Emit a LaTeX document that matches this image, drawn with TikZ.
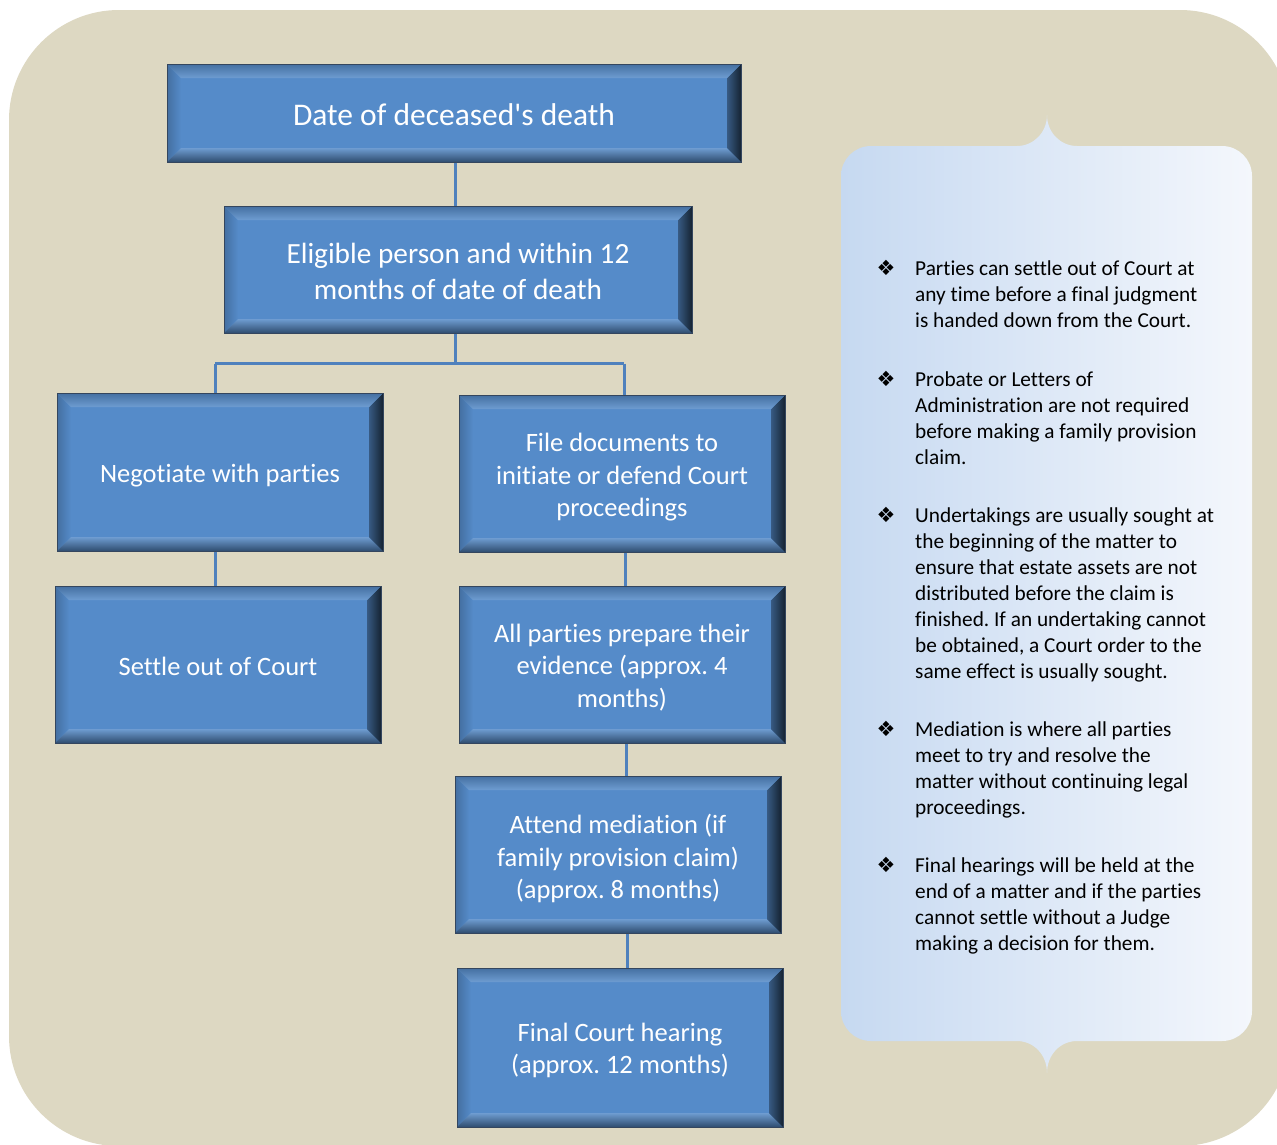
\documentclass[tikz,border=0pt]{standalone}
\usepackage{fontspec}
\setmainfont{Carlito}[Ligatures={TeX,NoCommon}]
\newfontfamily\dejavu{DejaVu Sans}
\definecolor{beige}{HTML}{DDD8C2}
\definecolor{boxface}{HTML}{558BC9}
\definecolor{boxline}{HTML}{34465E}
\definecolor{conn}{HTML}{4F81BD}
\definecolor{panelL}{HTML}{C6D9F1}
\definecolor{panelR}{HTML}{F4F7FC}
\begin{document}
\frenchspacing
\begin{tikzpicture}[x=1pt,y=-1pt,
  bevbox/.style={rectangle, inner sep=0pt, draw=boxline, line width=1pt, fill=boxface,
    path picture={
      \path (path picture bounding box.north west) coordinate (bnw)
            (path picture bounding box.north east) coordinate (bne)
            (path picture bounding box.south west) coordinate (bsw)
            (path picture bounding box.south east) coordinate (bse);
      \shade[left color=boxface!80!black, right color=boxface]
        (bnw) -- ([xshift=14pt,yshift=-14pt]bnw) -- ([xshift=14pt,yshift=14pt]bsw) -- (bsw) -- cycle;
      \shade[top color=boxface!85!white, bottom color=boxface!55!black]
        (bsw) -- ([xshift=14pt,yshift=14pt]bsw) -- ([xshift=-14pt,yshift=14pt]bse) -- (bse) -- cycle;
      \shade[left color=boxface!65!black, right color=boxface!25!black]
        (bse) -- ([xshift=-14pt,yshift=14pt]bse) -- ([xshift=-14pt,yshift=-14pt]bne) -- (bne) -- cycle;
      \shade[top color=boxface!80!black, middle color=boxface!55!white, bottom color=boxface!85!white]
        (bnw) -- (bne) -- ([xshift=-14pt,yshift=-14pt]bne) -- ([xshift=14pt,yshift=-14pt]bnw) -- cycle;
    }},
  boxtext/.style={inner sep=0pt, text=white, align=center, font=\fontsize{26.5}{32.5}\selectfont},
  connline/.style={draw=conn, line width=3pt},
  bullet/.style={anchor=base, inner sep=0pt, font=\dejavu\fontsize{21}{21}\selectfont},
  note/.style={anchor=base west, inner sep=0pt, font=\fontsize{21.3}{26}\selectfont}
]
\useasboundingbox (0,0) rectangle (1277,1144);
\fill[white] (0,0) rectangle (1277,1144);
\begin{scope}
  \clip (0,0) rectangle (1277,1144);
  \fill[beige, rounded corners=110pt] (9,10) rectangle (1290,1146);
\end{scope}

% side panel
\shade[left color=panelL, right color=panelR]
  (871,146) -- (1017,146) .. controls (1033.6,146) and (1047,132.4) .. (1047,115)
  .. controls (1047,132.4) and (1060.4,146) .. (1077,146) -- (1222,146)
  .. controls (1238.6,146) and (1252,159.4) .. (1252,176) -- (1252,1011)
  .. controls (1252,1027.6) and (1238.6,1041) .. (1222,1041) -- (1077,1041)
  .. controls (1060.4,1041) and (1047,1054.6) .. (1047,1073)
  .. controls (1047,1054.6) and (1033.6,1041) .. (1017,1041) -- (871,1041)
  .. controls (854.4,1041) and (841,1027.6) .. (841,1011) -- (841,176)
  .. controls (841,159.4) and (854.4,146) .. (871,146) -- cycle;

% boxes
\node[bevbox, minimum width=574pt, minimum height=98pt] (date) at (454,113) {};
\node[bevbox, minimum width=468pt, minimum height=127pt] (elig) at (458,269.5) {};
\node[bevbox, minimum width=326pt, minimum height=158pt] (neg) at (220,472) {};
\node[bevbox, minimum width=326pt, minimum height=157pt] (file) at (622,473.5) {};
\node[bevbox, minimum width=326pt, minimum height=157pt] (settle) at (218,664.5) {};
\node[bevbox, minimum width=326pt, minimum height=157pt] (all) at (622,664.5) {};
\node[bevbox, minimum width=326pt, minimum height=157pt] (attend) at (618,854.5) {};
\node[bevbox, minimum width=326pt, minimum height=159pt] (final) at (620,1047.5) {};

% box texts
\node[boxtext, font=\fontsize{31.5}{38}\selectfont] (dateT) at ([yshift=-2pt]date.center)
  {Date of deceased\textquotesingle s death};
\node[boxtext, font=\fontsize{29.3}{36}\selectfont] (eligT) at ([yshift=-2pt]elig.center)
  {Eligible person and within 12\\months of date of death};
\node[boxtext] (negT) at ([yshift=-4pt]neg.center) {Negotiate with parties};
\node[boxtext] (fileT) at ([yshift=-4pt]file.center) {File documents to\\initiate or defend Court\\proceedings};
\node[boxtext] (settleT) at ([yshift=-2pt]settle.center) {Settle out of Court};
\node[boxtext] (allT) at ([yshift=-3pt]all.center) {All parties prepare their\\evidence (approx. 4\\months)};
\node[boxtext] (attendT) at ([yshift=-4pt]attend.center) {Attend mediation (if\\family provision claim)\\(approx. 8 months)};
\node[boxtext] (finalT) at ([yshift=-3pt]final.center) {Final Court hearing\\(approx. 12 months)};

% connectors
\draw[connline] ([xshift=1pt]date.south) -- ([xshift=1pt]date.south |- elig.north);
\coordinate (split) at ([xshift=-3pt,yshift=-30pt]elig.south);
\draw[connline] ([xshift=-3pt]elig.south) -- (split);
\draw[connline] ([xshift=-5pt]neg.north |- split) -- ([xshift=2pt]file.north |- split);
\draw[connline] ([xshift=-5pt]neg.north |- split) -- ([xshift=-5pt]neg.north);
\draw[connline] ([xshift=2pt]file.north |- split) -- ([xshift=2pt]file.north);
\draw[connline] ([xshift=-5pt]neg.south) -- ([xshift=-5pt]neg.south |- settle.north);
\draw[connline] ([xshift=3pt]file.south) -- ([xshift=3pt]file.south |- all.north);
\draw[connline] ([xshift=4pt]all.south) -- ([xshift=4pt]all.south |- attend.north);
\draw[connline] ([xshift=9pt]attend.south) -- ([xshift=9pt]attend.south |- final.north);

% notes
\node[bullet] (b1) at (886,275) {❖};
\node[note] (n1) at (915,275) {\vtop{\baselineskip=26pt
  \hbox{Parties can settle out of Court at}
  \hbox{any time before a final judgment}
  \hbox{is handed down from the Court.}}};
\node[bullet] (b2) at (886,386) {❖};
\node[note] (n2) at (915,386) {\vtop{\baselineskip=26pt
  \hbox{Probate or Letters of}
  \hbox{Administration are not required}
  \hbox{before making a family provision}
  \hbox{claim.}}};
\node[bullet] (b3) at (886,522) {❖};
\node[note] (n3) at (915,522) {\vtop{\baselineskip=26pt
  \hbox{Undertakings are usually sought at}
  \hbox{the beginning of the matter to}
  \hbox{ensure that estate assets are not}
  \hbox{distributed before the claim is}
  \hbox{finished. If an undertaking cannot}
  \hbox{be obtained, a Court order to the}
  \hbox{same effect is usually sought.}}};
\node[bullet] (b4) at (886,736) {❖};
\node[note] (n4) at (915,736) {\vtop{\baselineskip=26pt
  \hbox{Mediation is where all parties}
  \hbox{meet to try and resolve the}
  \hbox{matter without continuing legal}
  \hbox{proceedings.}}};
\node[bullet] (b5) at (886,872) {❖};
\node[note] (n5) at (915,872) {\vtop{\baselineskip=26pt
  \hbox{Final hearings will be held at the}
  \hbox{end of a matter and if the parties}
  \hbox{cannot settle without a Judge}
  \hbox{making a decision for them.}}};
\end{tikzpicture}
\end{document}
